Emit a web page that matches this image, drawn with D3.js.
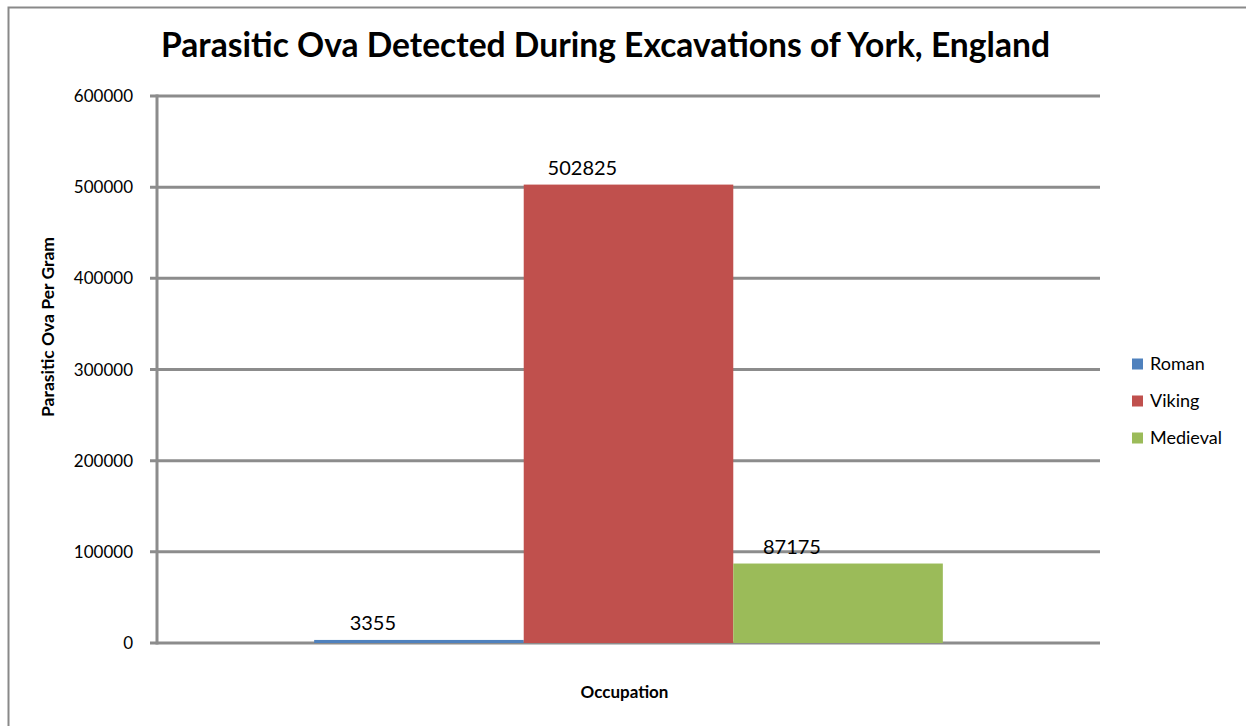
<!DOCTYPE html>
<html>
<head>
<meta charset="utf-8">
<script src="https://cdn.jsdelivr.net/npm/d3@7"></script>
<style>
  body { margin: 0; background: #fff; overflow: hidden; }
  svg { display: block; }
  text { font-family: Lato, "Open Sans", sans-serif; fill: #000; }
</style>
</head>
<body>
<div id="chart"></div>
<script>
const series = ['Roman', 'Viking', 'Medieval'];
const values = [3355, 502825, 87175];
const colors = ['#4F81BD', '#C0504D', '#9BBB59'];
const yTicks = [0, 100000, 200000, 300000, 400000, 500000, 600000];

const width = 1246, height = 726;
const margin = { left: 157, right: 146, top: 96, bottom: 83 };

const svg = d3.select('#chart').append('svg')
  .attr('width', width)
  .attr('height', height);

// chart frame: only the left and top edges are inside the picture
svg.append('path')
  .attr('d', `M8.5,${height} V7.5 H${width}`)
  .attr('fill', 'none')
  .attr('stroke', '#898989')
  .attr('stroke-width', 2);

const x0 = margin.left, x1 = width - margin.right;
const yTop = margin.top, yBot = height - margin.bottom;

const y = d3.scaleLinear().domain([0, 600000]).range([yBot, yTop]);

// single category, 150% gap width
const x = d3.scaleBand().domain(series)
  .range([x0 + (x1 - x0) / 6, x1 - (x1 - x0) / 6]);

// gridlines + tick marks
svg.append('g')
  .selectAll('line')
  .data(yTicks)
  .enter().append('line')
  .attr('x1', x0 - 7)
  .attr('x2', x1)
  .attr('y1', d => y(d))
  .attr('y2', d => y(d))
  .attr('stroke', '#8c8c8c')
  .attr('stroke-width', 3);

svg.append('line')
  .attr('x1', x0).attr('x2', x0)
  .attr('y1', yTop - 1.5).attr('y2', yBot + 1.5)
  .attr('stroke', '#8c8c8c')
  .attr('stroke-width', 3);

svg.append('g')
  .selectAll('text')
  .data(yTicks)
  .enter().append('text')
  .attr('x', 133)
  .attr('y', d => y(d))
  .attr('dy', '0.36em')
  .attr('text-anchor', 'end')
  .style('font-size', '17px')
  .text(d => d);

// bars
svg.append('g')
  .selectAll('rect')
  .data(values)
  .enter().append('rect')
  .attr('x', (d, i) => x(series[i]))
  .attr('y', d => y(d))
  .attr('width', x.bandwidth())
  .attr('height', d => yBot - y(d))
  .attr('fill', (d, i) => colors[i]);

// data labels
svg.append('g')
  .selectAll('text')
  .data(values)
  .enter().append('text')
  .attr('x', (d, i) => x(series[i]) + x.bandwidth() * 0.28)
  .attr('y', d => y(d) - 10)
  .attr('text-anchor', 'middle')
  .style('font-size', '20px')
  .text(d => d);

// title
svg.append('text')
  .attr('x', 605.5)
  .attr('y', 57)
  .attr('text-anchor', 'middle')
  .attr('textLength', 889)
  .attr('lengthAdjust', 'spacingAndGlyphs')
  .style('font-size', '34px')
  .style('font-weight', 'bold')
  .text('Parasitic Ova Detected During Excavations of York, England');

// axis titles
svg.append('text')
  .attr('transform', 'translate(54,327) rotate(-90)')
  .attr('text-anchor', 'middle')
  .attr('textLength', 180)
  .attr('lengthAdjust', 'spacingAndGlyphs')
  .style('font-size', '17px')
  .style('font-weight', 'bold')
  .text('Parasitic Ova Per Gram');

svg.append('text')
  .attr('x', 624.5)
  .attr('y', 698)
  .attr('text-anchor', 'middle')
  .style('font-size', '17px')
  .style('font-weight', 'bold')
  .text('Occupation');

// legend
const legend = svg.append('g')
  .selectAll('g')
  .data(series)
  .enter().append('g')
  .attr('transform', (d, i) => `translate(1132, ${364 + i * 37})`);

legend.append('rect')
  .attr('x', 0).attr('y', -5.5)
  .attr('width', 11).attr('height', 11)
  .attr('fill', (d, i) => colors[i]);

legend.append('text')
  .attr('x', 18)
  .attr('dy', '0.36em')
  .style('font-size', '18px')
  .text(d => d);
</script>
</body>
</html>
